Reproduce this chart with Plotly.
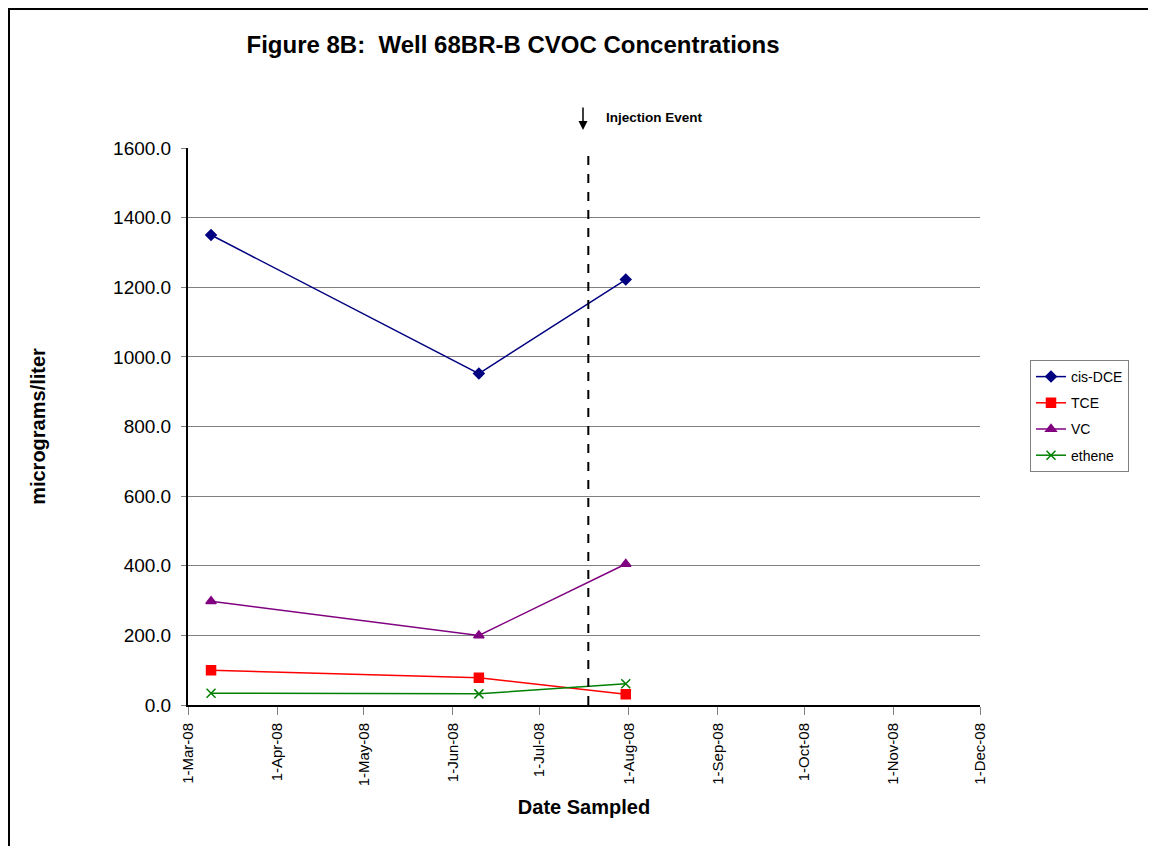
import plotly.graph_objects as go

dates = ["2008-03-09", "2008-06-10", "2008-07-31"]
cis_dce = [1350, 952, 1222]
tce = [100, 78, 31]
vc = [298, 200, 405]
ethene = [34, 32, 61]
injection_date = "2008-07-18"
tick_dates = ["2008-03-01", "2008-04-01", "2008-05-01", "2008-06-01", "2008-07-01",
              "2008-08-01", "2008-09-01", "2008-10-01", "2008-11-01", "2008-12-01"]
tick_labels = ["1-Mar-08", "1-Apr-08", "1-May-08", "1-Jun-08", "1-Jul-08",
               "1-Aug-08", "1-Sep-08", "1-Oct-08", "1-Nov-08", "1-Dec-08"]

# plot area in figure pixels
L, R, T, B = 180, 972, 140, 697
W, H = 1156, 846
PW, PH = R - L, B - T

def px(x):
    return (x - L) / PW

def py(y):
    return (B - y) / PH

fig = go.Figure()
series = [
    ("cis-DCE", cis_dce, "#000080", "diamond", 8),
    ("TCE", tce, "#FF0000", "square", 9),
    ("VC", vc, "#800080", "triangle-up", 9),
    ("ethene", ethene, "#008000", "x-thin", 9),
]
for name, vals, col, sym, sz in series:
    fig.add_trace(go.Scatter(
        x=dates, y=vals, name=name, mode="lines+markers", legendgroup=name,
        line=dict(color=col, width=1.5),
        marker=dict(symbol=sym, size=sz, color=col, line=dict(color=col, width=1.5)),
    ))

fig.add_shape(type="line", xref="x", yref="paper", x0=injection_date, x1=injection_date,
              y0=0, y1=1.0, line=dict(color="black", width=2, dash="dash"))
fig.add_annotation(xref="paper", yref="paper", x=px(575), y=py(122),
                   ax=0, ay=-24, text="", showarrow=True, arrowhead=2, arrowsize=1.2,
                   arrowwidth=1.5, arrowcolor="black")
fig.add_annotation(xref="paper", yref="paper", x=px(596), y=py(109),
                   xanchor="left", yanchor="middle", text="<b>Injection Event</b>",
                   showarrow=False, font=dict(size=13.5, color="black", family="Arial"))
# outer border
fig.add_shape(type="rect", xref="paper", yref="paper",
              x0=px(1), x1=px(W + 20), y0=py(H + 20), y1=py(1),
              line=dict(color="black", width=2), layer="below")

fig.update_layout(
    width=W, height=H,
    margin=dict(l=L, r=W - R, t=T, b=H - B),
    paper_bgcolor="white", plot_bgcolor="white",
    font=dict(family="Arial", color="black"),
    title=dict(text="<b>Figure 8B:  Well 68BR-B CVOC Concentrations</b>",
               x=505 / W, xanchor="center", y=1 - 37 / H, yanchor="middle",
               font=dict(size=24, family="Arial", color="black")),
    showlegend=True,
    legend=dict(x=px(1022), y=py(352), xanchor="left", yanchor="top",
                bordercolor="#808080", borderwidth=1, font=dict(size=14, family="Arial"),
                tracegroupgap=5),
    xaxis=dict(range=["2008-03-01", "2008-12-01"], tickmode="array",
               tickvals=tick_dates, ticktext=tick_labels, tickangle=-90,
               ticks="outside", ticklen=8, tickcolor="#808080",
               showline=True, linecolor="black", linewidth=2, showgrid=False,
               tickfont=dict(size=15, family="Arial"), ticklabelstandoff=2,
               title=dict(text="<b>Date Sampled</b>", font=dict(size=20, family="Arial"), standoff=15)),
    yaxis=dict(range=[0, 1600], dtick=200, tickformat=".1f",
               ticks="outside", ticklen=5, tickcolor="#808080",
               showline=True, linecolor="black", linewidth=2,
               showgrid=True, gridcolor="#808080", gridwidth=1, zeroline=False,
               tickfont=dict(size=19, family="Arial"), ticklabelstandoff=6,
               title=dict(text="<b>micrograms/liter</b>", font=dict(size=20, family="Arial"), standoff=62)),
)
fig.write_html("out.html")
